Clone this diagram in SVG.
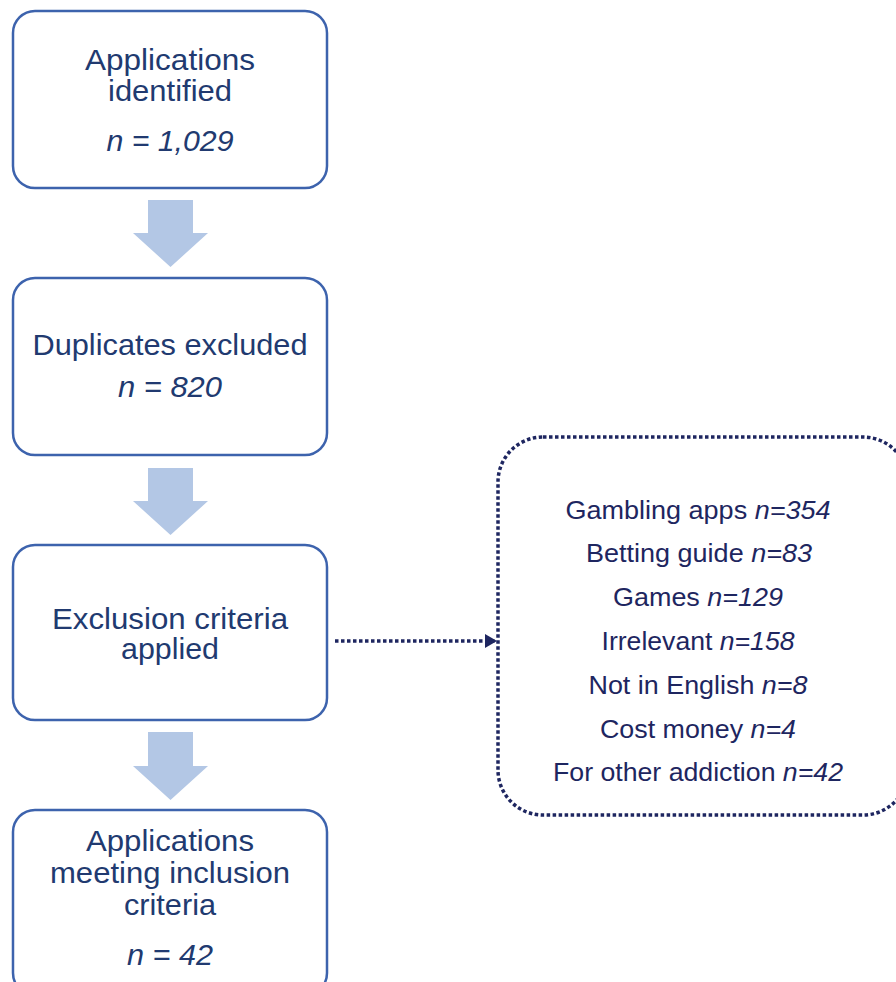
<svg xmlns="http://www.w3.org/2000/svg" width="896" height="982" viewBox="0 0 896 982">
<style>
.box{fill:#fff;stroke:#3d63ad;stroke-width:2.5}
.arr{fill:#b3c7e5}
.t{font-family:"Liberation Sans",Arial,sans-serif;text-anchor:middle}
.l{font-size:30px;fill:#213a70}
.r{font-size:26.5px;fill:#1e2660}
.i{font-style:italic}
.dot{fill:none;stroke:#1e2660;stroke-width:3.5;stroke-dasharray:3.5 2.5}
</style>
<defs>
<marker id="ah" markerWidth="12" markerHeight="14" refX="10" refY="7" orient="auto" markerUnits="userSpaceOnUse">
<path d="M0,0 L12,7 L0,14 Z" fill="#1e2660"/>
</marker>
</defs>
<rect width="896" height="982" fill="#fff"/>
<g id="connectors">
<polygon class="arr" points="148,200 193,200 193,233 208,233 170.5,267 133,233 148,233"/>
<polygon class="arr" points="148,468 193,468 193,501 208,501 170.5,535 133,501 148,501"/>
<polygon class="arr" points="148,732 193,732 193,766 208,766 170.5,800 133,766 148,766"/>
<line class="dot" x1="335" y1="641" x2="495" y2="641" marker-end="url(#ah)"/>
</g>
<g id="n1">
<rect class="box" x="13" y="11" width="314" height="177" rx="22"/>
<text class="t l" x="170" y="70" textLength="170" lengthAdjust="spacingAndGlyphs">Applications</text>
<text class="t l" x="170" y="101" textLength="124" lengthAdjust="spacingAndGlyphs">identified</text>
<text class="t l i" x="170" y="151" textLength="127" lengthAdjust="spacingAndGlyphs">n = 1,029</text>
</g>
<g id="n2">
<rect class="box" x="13" y="278" width="314" height="177" rx="22"/>
<text class="t l" x="170" y="355" textLength="275" lengthAdjust="spacingAndGlyphs">Duplicates excluded</text>
<text class="t l i" x="170" y="397" textLength="104" lengthAdjust="spacingAndGlyphs">n = 820</text>
</g>
<g id="n3">
<rect class="box" x="13" y="545" width="314" height="175" rx="22"/>
<text class="t l" x="170" y="628.5" textLength="236" lengthAdjust="spacingAndGlyphs">Exclusion criteria</text>
<text class="t l" x="170" y="658.5" textLength="98" lengthAdjust="spacingAndGlyphs">applied</text>
</g>
<g id="n4">
<rect class="box" x="13" y="810" width="314" height="185" rx="22"/>
<text class="t l" x="170" y="850.5" textLength="168" lengthAdjust="spacingAndGlyphs">Applications</text>
<text class="t l" x="170" y="882.5" textLength="240" lengthAdjust="spacingAndGlyphs">meeting inclusion</text>
<text class="t l" x="170" y="914.5" textLength="92" lengthAdjust="spacingAndGlyphs">criteria</text>
<text class="t l i" x="170" y="965" textLength="86" lengthAdjust="spacingAndGlyphs">n = 42</text>
</g>
<g id="n5">
<rect class="dot" x="498" y="437" width="410" height="378" rx="45"/>
<text class="t r" x="698" y="519" textLength="265" lengthAdjust="spacingAndGlyphs">Gambling apps <tspan class="i">n=354</tspan></text>
<text class="t r" x="699" y="562" textLength="226" lengthAdjust="spacingAndGlyphs">Betting guide <tspan class="i">n=83</tspan></text>
<text class="t r" x="698" y="606" textLength="170" lengthAdjust="spacingAndGlyphs">Games <tspan class="i">n=129</tspan></text>
<text class="t r" x="698" y="650" textLength="193" lengthAdjust="spacingAndGlyphs">Irrelevant <tspan class="i">n=158</tspan></text>
<text class="t r" x="698" y="694" textLength="219" lengthAdjust="spacingAndGlyphs">Not in English <tspan class="i">n=8</tspan></text>
<text class="t r" x="698" y="738" textLength="196" lengthAdjust="spacingAndGlyphs">Cost money <tspan class="i">n=4</tspan></text>
<text class="t r" x="698" y="781" textLength="290" lengthAdjust="spacingAndGlyphs">For other addiction <tspan class="i">n=42</tspan></text>
</g>
</svg>
